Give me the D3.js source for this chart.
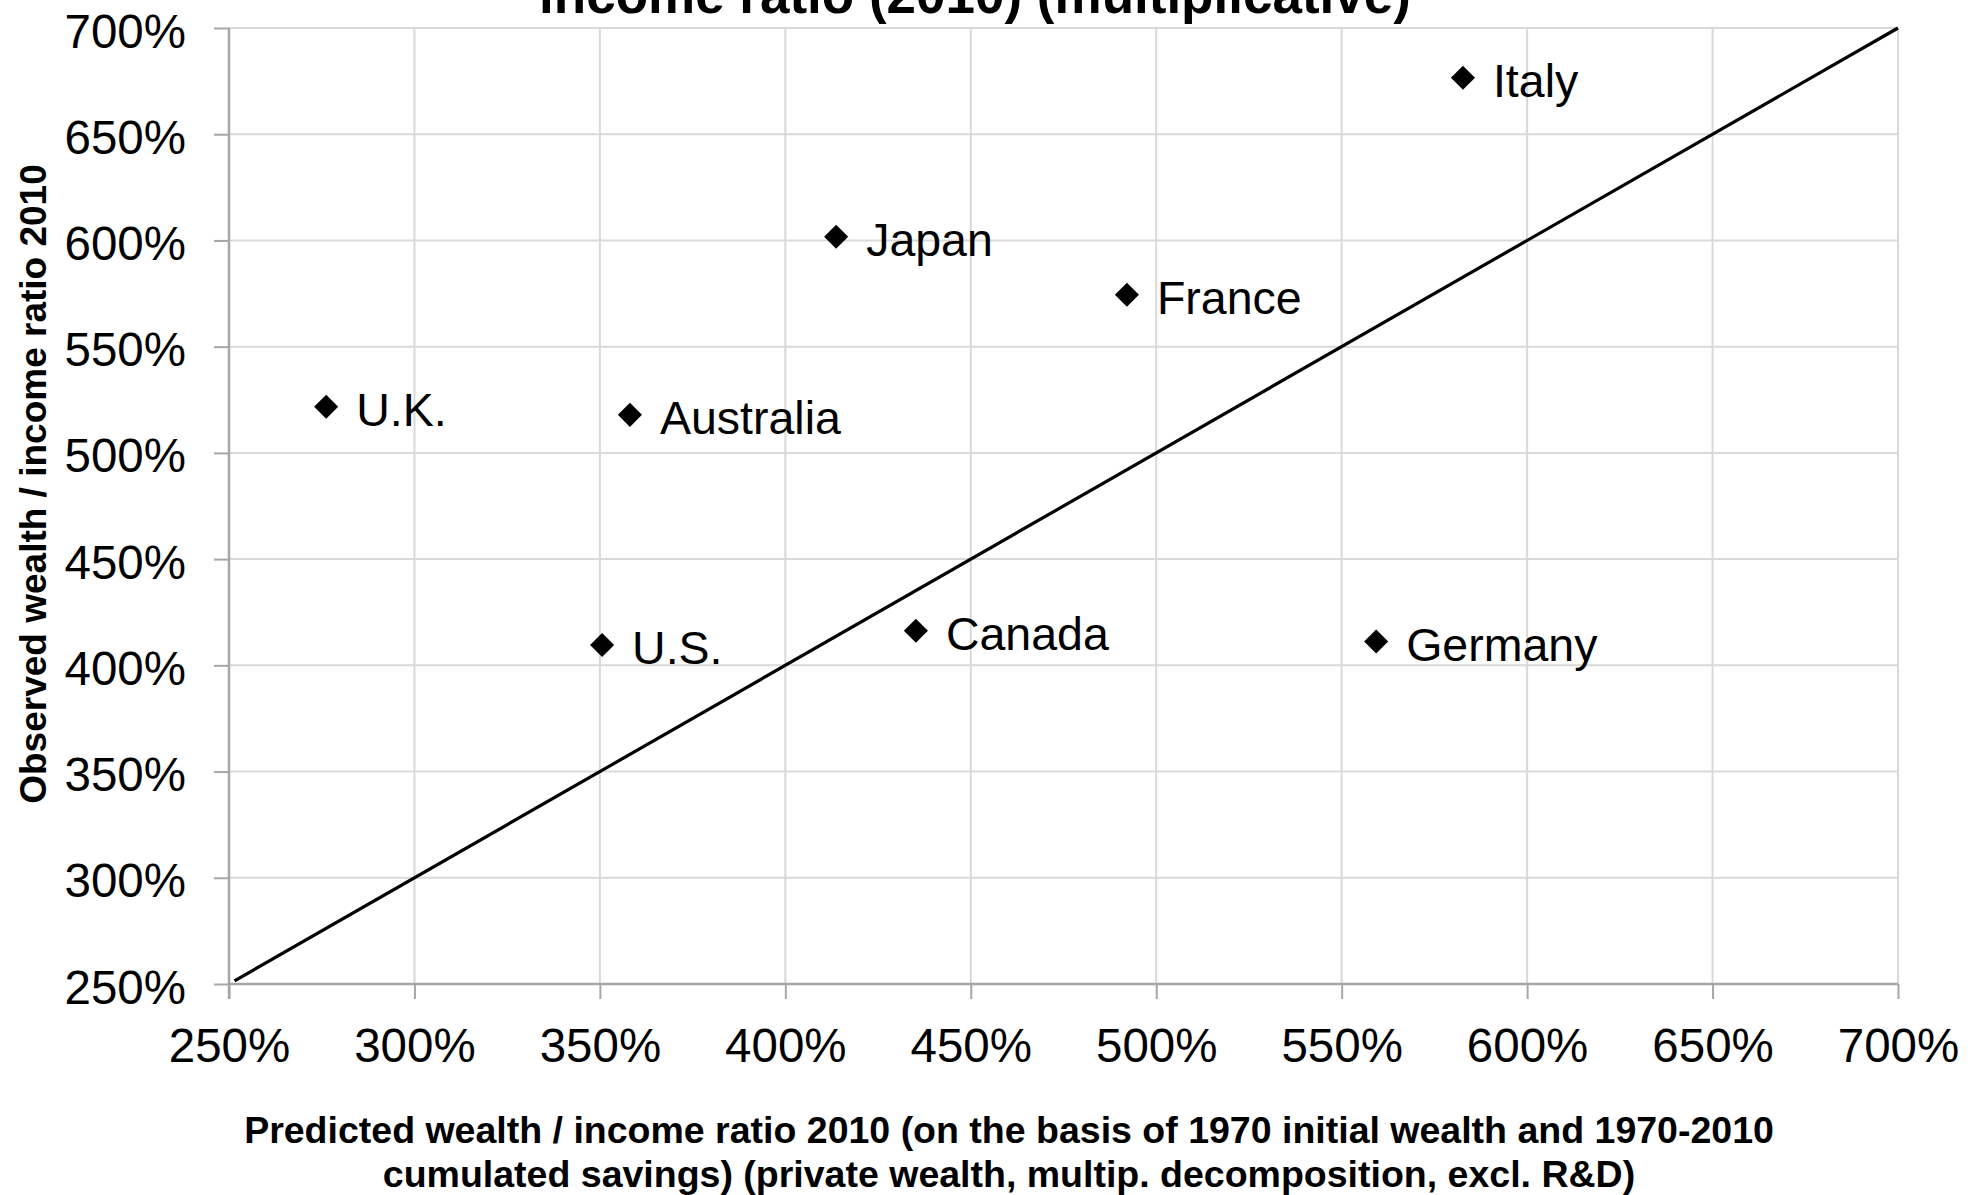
<!DOCTYPE html>
<html>
<head>
<meta charset="utf-8">
<script src="https://cdn.jsdelivr.net/npm/d3@7"></script>
<style>
  html, body { margin: 0; padding: 0; background: #ffffff; }
  svg { display: block; }
  text { font-family: "Liberation Sans", Arial, sans-serif; fill: #000; }
</style>
</head>
<body>
<svg id="chart" width="1984" height="1195"></svg>
<script>
// ---- Data ----
const countries = ["Italy", "Japan", "France", "U.K.", "Australia", "U.S.", "Canada", "Germany"];
const predicted = [582.7, 413.7, 492.1, 276.2, 358.1, 350.6, 435.2, 559.3];   // x, %
const observed  = [676.6, 601.7, 574.4, 521.7, 517.9, 409.6, 416.3, 411.2];   // y, %
const diagonalX = [251.5, 700];
const diagonalY = [251.5, 700];
const tickValues = [250, 300, 350, 400, 450, 500, 550, 600, 650, 700];
const titleText = "income ratio (2010) (multiplicative)";
const xTitleLines = [
  "Predicted wealth / income ratio 2010 (on the basis of 1970 initial wealth and 1970-2010",
  "cumulated savings) (private wealth, multip. decomposition, excl. R&D)"
];
const yTitleText = "Observed wealth / income ratio 2010";

// ---- Layout ----
const W = 1984, H = 1195;
const plot = { left: 229, right: 1898, top: 28, bottom: 984 };

const svg = d3.select("#chart");

const x = d3.scaleLinear().domain([250, 700]).range([plot.left, plot.right]);
const y = d3.scaleLinear().domain([250, 700]).range([plot.bottom, plot.top]);

const fmt = d => d + "%";

// Gridlines
const grid = svg.append("g");
grid.selectAll("line.vg").data(tickValues.slice(1)).join("line")
  .attr("x1", d => x(d)).attr("x2", d => x(d))
  .attr("y1", plot.top).attr("y2", plot.bottom)
  .attr("stroke", "#d9d9d9").attr("stroke-width", 2);
grid.selectAll("line.hg").data(tickValues.slice(1)).join("line")
  .attr("x1", plot.left).attr("x2", plot.right)
  .attr("y1", d => y(d)).attr("y2", d => y(d))
  .attr("stroke", "#d9d9d9").attr("stroke-width", 2);

// Axes
const xAxis = d3.axisBottom(x).tickValues(tickValues).tickFormat(fmt).tickSize(15).tickPadding(20);
const yAxis = d3.axisLeft(y).tickValues(tickValues).tickFormat(fmt).tickSize(15).tickPadding(28);

const gx = svg.append("g").attr("transform", `translate(0,${plot.bottom})`).call(xAxis);
const gy = svg.append("g").attr("transform", `translate(${plot.left},0)`).call(yAxis);

[gx, gy].forEach(g => {
  g.select(".domain").attr("stroke", "#a6a6a6").attr("stroke-width", 2.5);
  g.selectAll(".tick line").attr("stroke", "#a6a6a6").attr("stroke-width", 2);
  g.selectAll(".tick text")
    .attr("font-family", "'Liberation Sans', Arial, sans-serif")
    .attr("font-size", 47.5).attr("fill", "#000");
});
gx.select(".domain").attr("d", `M${plot.left},0H${plot.right}`);
gy.select(".domain").attr("d", `M0,${plot.top}V${plot.bottom + 15}`);
gx.selectAll(".tick text").attr("dy", null).attr("y", 78);
gy.selectAll(".tick text").attr("dy", "0.4em");

// Diagonal line
const diag = diagonalX.map((v, i) => [v, diagonalY[i]]);
svg.append("path")
  .datum(diag)
  .attr("d", d3.line().x(d => x(d[0])).y(d => y(d[1])))
  .attr("fill", "none").attr("stroke", "#000").attr("stroke-width", 3.2);

// Points
const pts = countries.map((c, i) => ({ name: c, px: predicted[i], py: observed[i] }));
const diamond = d3.symbol().type(d3.symbolSquare).size(290);
const gp = svg.append("g");
gp.selectAll("path").data(pts).join("path")
  .attr("d", diamond)
  .attr("transform", d => `translate(${x(d.px)},${y(d.py)}) rotate(45)`)
  .attr("fill", "#000");
gp.selectAll("text").data(pts).join("text")
  .attr("x", d => x(d.px) + 30)
  .attr("y", d => y(d.py) + 19)
  .attr("font-size", 46.5)
  .text(d => d.name);

// Title (partially cut at top, as in the reference)
svg.append("text")
  .attr("x", 975).attr("y", 13)
  .attr("text-anchor", "middle")
  .attr("font-size", 53).attr("font-weight", "bold")
  .text(titleText);

// X axis title
svg.append("g").selectAll("text").data(xTitleLines).join("text")
  .attr("x", 1009).attr("y", (d, i) => 1143 + i * 44)
  .attr("text-anchor", "middle")
  .attr("font-size", 37.5).attr("font-weight", "bold")
  .text(d => d);

// Y axis title
svg.append("text")
  .attr("transform", "translate(46,484) rotate(-90)")
  .attr("text-anchor", "middle")
  .attr("font-size", 37).attr("font-weight", "bold")
  .text(yTitleText);
</script>
</body>
</html>
